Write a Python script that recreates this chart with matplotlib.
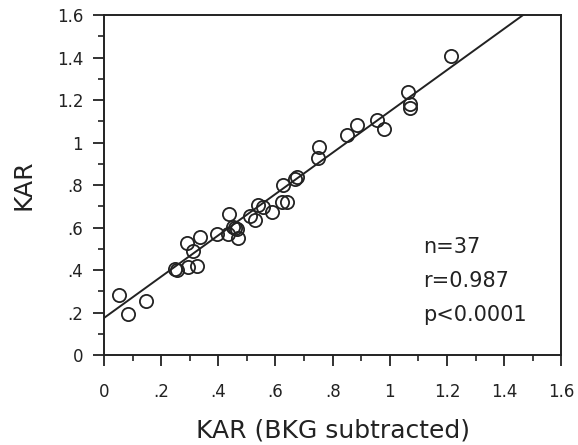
import numpy as np
import matplotlib.pyplot as plt
from matplotlib.ticker import MultipleLocator, FuncFormatter

# KAR values
kar_bkg = [0.054, 0.083, 0.147, 0.249, 0.257, 0.290, 0.313, 0.295, 0.327, 0.336,
           0.395, 0.439, 0.435, 0.453, 0.460, 0.465, 0.470, 0.511, 0.529, 0.540,
           0.558, 0.587, 0.622, 0.640, 0.626, 0.669, 0.677, 0.750, 0.754, 0.852,
           0.885, 0.955, 0.980, 1.063, 1.069, 1.069, 1.215]
kar = [0.281, 0.194, 0.253, 0.403, 0.400, 0.526, 0.490, 0.415, 0.420, 0.556,
       0.570, 0.662, 0.569, 0.605, 0.600, 0.592, 0.553, 0.655, 0.636, 0.706,
       0.695, 0.674, 0.719, 0.722, 0.802, 0.829, 0.837, 0.927, 0.980, 1.035,
       1.082, 1.106, 1.062, 1.236, 1.180, 1.165, 1.406]

# regression line
intercept = 0.175
slope = 0.972

stats = ["n=37", "r=0.987", "p<0.0001"]

plt.rcParams['font.family'] = ['DejaVu Sans']

fig = plt.figure(figsize=(5.78, 4.45), dpi=100)
ax = fig.add_axes([0.18, 0.202, 0.791, 0.764])

ax.plot(kar_bkg, kar, 'o', markersize=9.5, markerfacecolor='none',
        markeredgecolor='#222222', markeredgewidth=1.3)

xl = np.array([0, 1.6])
ax.plot(xl, intercept + slope * xl, color='#222222', lw=1.4)

ax.set_xlim(0, 1.6)
ax.set_ylim(0, 1.6)


def fmt(v, pos):
    s = '%g' % round(v, 2)
    if s.startswith('0.'):
        s = s[1:]
    return s


for axis in (ax.xaxis, ax.yaxis):
    axis.set_major_locator(MultipleLocator(0.2))
    axis.set_minor_locator(MultipleLocator(0.1))
    axis.set_major_formatter(FuncFormatter(fmt))

ax.tick_params(which='major', direction='out', length=8, width=1.3,
               labelsize=12, color='#222222', labelcolor='#222222')
ax.tick_params(which='minor', direction='out', length=4, width=1.2, color='#222222')
ax.tick_params(axis='x', pad=12)
ax.tick_params(axis='y', pad=7)

for sp in ax.spines.values():
    sp.set_linewidth(1.4)
    sp.set_color('#222222')

ax.set_xlabel('KAR (BKG subtracted)', fontsize=18, color='#222222', labelpad=13)
ax.set_ylabel('KAR', fontsize=18, color='#222222', labelpad=15)

for i, s in enumerate(stats):
    ax.text(1.115, 0.51 - i * 0.16, s, fontsize=15, color='#222222',
            ha='left', va='center')

fig.savefig('out.png', dpi=100)
